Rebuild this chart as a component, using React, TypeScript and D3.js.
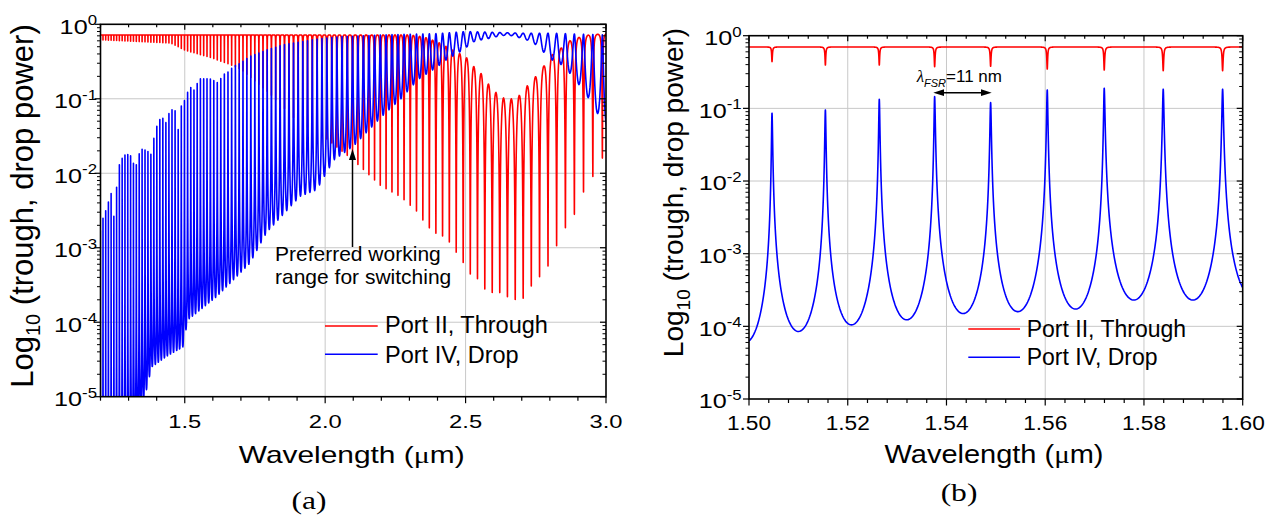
import React from 'react';
import * as d3 from 'd3';

// ================= Panel (a) data =================
// apparent fringe spacing (free spectral range, µm) vs wavelength
const fsrA: [number, number][] = [
  [1.2, 0.0095], [1.55, 0.0115], [1.9, 0.0165], [2.0, 0.0175], [2.65, 0.0275], [3.0, 0.0345],
];
const anchorResA = 2.649; // one resonance read off the through-port dips
// drop port: peak level at resonance
const dropPeakA: [number, number][] = [
  [1.2, 1.7e-3], [1.21, 2.6e-3], [1.222, 3.4e-3], [1.234, 4.9e-3], [1.243, 6.0e-3], [1.25, 1.7e-3],
  [1.26, 0.0105], [1.272, 0.015], [1.287, 0.0176], [1.305, 0.018], [1.317, 0.0136], [1.329, 0.0129],
  [1.341, 0.0206], [1.352, 0.0212], [1.37, 0.0195], [1.382, 0.0176], [1.394, 0.038], [1.406, 0.047],
  [1.418, 0.061], [1.43, 0.044], [1.441, 0.061], [1.453, 0.071], [1.465, 0.071], [1.477, 0.038],
  [1.489, 0.087], [1.501, 0.096], [1.513, 0.131], [1.525, 0.146], [1.536, 0.125], [1.548, 0.179],
  [1.56, 0.188], [1.572, 0.183], [1.584, 0.188], [1.601, 0.179], [1.613, 0.161], [1.625, 0.179],
  [1.637, 0.21], [1.655, 0.23], [1.673, 0.27], [1.697, 0.3], [1.732, 0.37], [1.791, 0.45],
  [1.851, 0.53], [1.91, 0.58], [1.969, 0.63], [2.05, 0.68], [2.2, 0.72], [2.4, 0.75], [2.5, 0.8],
  [2.6, 0.78], [2.7, 0.76], [2.8, 0.76], [2.9, 0.74], [3.0, 0.72],
];
// drop port: valley level between resonances
const dropValleyA: [number, number][] = [
  [1.2, 1e-7], [1.33, 5e-6], [1.358, 1e-5], [1.382, 2.5e-5], [1.436, 3.5e-5], [1.495, 4.7e-5],
  [1.51, 1.07e-4], [1.613, 2.2e-4], [1.732, 6.2e-4], [1.791, 1.6e-3], [1.91, 4.9e-3], [1.97, 6e-3],
  [2.03, 0.015], [2.1, 0.023], [2.2, 0.057], [2.27, 0.1], [2.33, 0.18], [2.4, 0.27], [2.43, 0.33],
  [2.49, 0.45], [2.527, 0.58], [2.557, 0.62], [2.586, 0.65], [2.622, 0.7], [2.651, 0.72],
  [2.681, 0.68], [2.717, 0.62], [2.752, 0.53], [2.782, 0.41], [2.817, 0.31], [2.85, 0.28],
  [2.88, 0.2], [2.92, 0.13], [2.955, 0.08], [3.0, 0.04],
];
// through port: maximum level between dips
const throughTopA: [number, number][] = [
  [1.2, 0.72], [2.3, 0.72], [2.35, 0.68], [2.4, 0.58], [2.455, 0.45], [2.5, 0.37], [2.53, 0.27],
  [2.56, 0.21], [2.58, 0.16], [2.61, 0.12], [2.64, 0.1], [2.67, 0.1], [2.69, 0.11], [2.72, 0.15],
  [2.75, 0.2], [2.78, 0.28], [2.8, 0.37], [2.84, 0.48], [2.87, 0.6], [2.9, 0.66], [2.94, 0.72], [3.0, 0.75],
];
// through port: dip level at resonance
const throughDipA: [number, number][] = [
  [1.2, 0.62], [1.45, 0.56], [1.5, 0.45], [1.6, 0.35], [1.67, 0.28], [1.7, 0.25], [1.8, 0.12],
  [1.9, 0.05], [2.0, 0.03], [2.1, 0.015], [2.2, 0.0067], [2.27, 0.0048], [2.33, 0.003], [2.36, 0.002],
  [2.4, 0.0015], [2.43, 0.0014], [2.497, 5.9e-4], [2.515, 4.5e-4], [2.541, 3.9e-4], [2.568, 2.8e-4],
  [2.596, 2.5e-4], [2.622, 2.5e-4], [2.649, 2.2e-4], [2.679, 2e-4], [2.705, 2.1e-4], [2.735, 3.1e-4],
  [2.764, 4.1e-4], [2.795, 5.8e-4], [2.83, 1.2e-3], [2.86, 2e-3], [2.89, 2.9e-3], [2.92, 5.6e-3],
  [2.96, 0.01], [3.0, 0.02],
];

// ================= Panel (b) data =================
const resB = [1.50466, 1.51547, 1.52639, 1.5376, 1.54894, 1.56041, 1.57195, 1.5839, 1.59593];
const dropPeakB = [0.0857, 0.095, 0.133, 0.145, 0.12, 0.179, 0.189, 0.183, 0.183];
// valleys: before first peak, between peaks, after last peak
const dropValleyB = [6e-5, 8.5e-5, 1.05e-4, 1.23e-4, 1.5e-4, 1.6e-4, 1.73e-4, 2.3e-4, 2.3e-4, 2.6e-4];
const throughDipB = [0.44, 0.395, 0.395, 0.375, 0.38, 0.348, 0.337, 0.33, 0.33];
const throughTopB = 0.7;

// ================= Axis / label data =================
const xTicksA = [1.5, 2.0, 2.5, 3.0];
const xTicksB = [1.5, 1.52, 1.54, 1.56, 1.58, 1.6];
const yDecades = [0, -1, -2, -3, -4, -5];
const legendLabels = ['Port II, Through', 'Port IV, Drop'];
const seriesColors = ['#ff0000', '#0000ff'];

const SANS = "'Liberation Sans', Arial, Helvetica, sans-serif";
const SERIF = "'Liberation Serif', 'Times New Roman', serif";

function makeLogInterp(knots: [number, number][]) {
  const xs = knots.map(k => k[0]);
  const ys = knots.map(k => Math.log10(k[1]));
  return (x: number) => {
    if (x <= xs[0]) return 10 ** ys[0];
    if (x >= xs[xs.length - 1]) return 10 ** ys[ys.length - 1];
    const i = d3.bisectRight(xs, x) - 1;
    const t = (x - xs[i]) / (xs[i + 1] - xs[i]);
    return 10 ** (ys[i] + t * (ys[i + 1] - ys[i]));
  };
}
function makeLinInterp(knots: [number, number][]) {
  const xs = knots.map(k => k[0]);
  const ys = knots.map(k => k[1]);
  return (x: number) => {
    if (x <= xs[0]) return ys[0];
    if (x >= xs[xs.length - 1]) return ys[ys.length - 1];
    const i = d3.bisectRight(xs, x) - 1;
    const t = (x - xs[i]) / (xs[i + 1] - xs[i]);
    return ys[i] + t * (ys[i + 1] - ys[i]);
  };
}

// phase sampling within one fringe (dense near resonance)
function phaseSamples(n: number) {
  const half = d3.range(n + 1).map(i => 0.5 * (i / n) ** 2);
  return [...half, ...half.slice(0, -1).reverse().map(u => 1 - u)];
}

function buildA() {
  const fsrAt = makeLinInterp(fsrA);
  const pk = makeLogInterp(dropPeakA);
  const vl = makeLogInterp(dropValleyA);
  const tt = makeLogInterp(throughTopA);
  const td = makeLogInterp(throughDipA);
  const res: number[] = [anchorResA];
  let l = anchorResA;
  while (l > 1.17) { l -= fsrAt(l - fsrAt(l) / 2); res.unshift(l); }
  l = anchorResA;
  while (l < 3.03) { l += fsrAt(l + fsrAt(l) / 2); res.push(l); }
  const U = phaseSamples(14);
  const drop: [number, number][] = [];
  const thr: [number, number][] = [];
  for (let k = 0; k < res.length - 1; k++) {
    const a = res[k], b = res[k + 1], mid = (a + b) / 2;
    const F = Math.max(pk(mid) / vl(mid) - 1, 0);
    const us = k === res.length - 2 ? U : U.slice(0, -1);
    for (const u of us) {
      const x = a + (b - a) * u;
      const s2 = Math.sin(Math.PI * u) ** 2;
      drop.push([x, Math.max(pk(x) / (1 + F * s2), 1e-9)]);
      const top = tt(x), dip = td(x);
      thr.push([x, dip + (top - dip) * (1 + F) * s2 / (1 + F * s2)]);
    }
  }
  return { drop, thr };
}

function buildB() {
  const n = resB.length;
  const resExt = [resB[0] - (resB[1] - resB[0]), ...resB, resB[n - 1] + (resB[n - 1] - resB[n - 2])];
  const pkExt = [dropPeakB[0], ...dropPeakB, dropPeakB[n - 1]];
  const dpExt = [throughDipB[0], ...throughDipB, throughDipB[n - 1]];
  const U = phaseSamples(60);
  const drop: [number, number][] = [];
  const thr: [number, number][] = [];
  for (let k = 0; k < resExt.length - 1; k++) {
    const a = resExt[k], b = resExt[k + 1];
    const Pa = pkExt[k], Pb = pkExt[k + 1];
    const V = dropValleyB[k];
    const F = Math.max(Math.sqrt(Pa * Pb) / V - 1, 0);
    const us = k === resExt.length - 2 ? U : U.slice(0, -1);
    for (const u of us) {
      const x = a + (b - a) * u;
      const s2 = Math.sin(Math.PI * u) ** 2;
      const P = Pa ** (1 - u) * Pb ** u;
      drop.push([x, P / (1 + F * s2)]);
      const dip = dpExt[k] * (1 - u) + dpExt[k + 1] * u;
      thr.push([x, dip + (throughTopB - dip) * (1 + F) * s2 / (1 + F * s2)]);
    }
  }
  return { drop, thr };
}

type Cfg = {
  id: string;
  x0: number; x1: number; yTop: number; yBot: number;
  dom: [number, number];
  xTicks: number[]; xFmt: (v: number) => string; xMinor: number[];
  xTickFont: number; xTickSx: number; xTickBase: number;
  yLabRight: number;
  xTitleCx: number; xTitleBase: number; xTitleFont: number; xTitleSx: number;
  yTitleX: number; yTitleCy: number; yTitleFont: number; yTitleSub: number;
  panelCx: number; panelBase: number;
  legX0: number; legX1: number; legY: number[]; legTextX: number; legBase: number[]; legFont: number;
  lineW: number;
};

function Panel({ cfg, drop, thr, children }: { cfg: Cfg; drop: [number, number][]; thr: [number, number][]; children?: React.ReactNode }) {
  const xs = d3.scaleLinear().domain(cfg.dom).range([cfg.x0, cfg.x1]);
  const ys = d3.scaleLog().domain([1e-5, 1]).range([cfg.yBot, cfg.yTop]);
  const line = d3.line<[number, number]>().x(d => xs(d[0])).y(d => Math.min(ys(Math.max(d[1], 1e-9)), cfg.yBot + 400));
  const minorY: number[] = [];
  for (let e = -5; e < 0; e++) for (let m = 2; m <= 9; m++) minorY.push(m * 10 ** e);
  const grid = '#c8c8c8';
  const clipId = `clip-${cfg.id}`;
  return (
    <g>
      <defs>
        <clipPath id={clipId}>
          <rect x={cfg.x0} y={cfg.yTop} width={cfg.x1 - cfg.x0} height={cfg.yBot - cfg.yTop} />
        </clipPath>
      </defs>
      {/* grid */}
      {cfg.xTicks.filter(v => v > cfg.dom[0] + 1e-9 && v < cfg.dom[1] - 1e-9).map(v => (
        <line key={`gx${v}`} x1={xs(v)} x2={xs(v)} y1={cfg.yTop} y2={cfg.yBot} stroke={grid} strokeWidth={1} />
      ))}
      {yDecades.filter(d => d < 0 && d > -5).map(d => (
        <line key={`gy${d}`} x1={cfg.x0} x2={cfg.x1} y1={ys(10 ** d)} y2={ys(10 ** d)} stroke={grid} strokeWidth={1} />
      ))}
      {/* curves */}
      <g clipPath={`url(#${clipId})`}>
        <path d={line(thr) || ''} fill="none" stroke={seriesColors[0]} strokeWidth={cfg.lineW} strokeLinejoin="round" />
        <path d={line(drop) || ''} fill="none" stroke={seriesColors[1]} strokeWidth={cfg.lineW} strokeLinejoin="round" />
      </g>
      {/* ticks */}
      <g stroke="#000" strokeWidth={1.2}>
        {cfg.xMinor.map((v, i) => {
          const major = cfg.xTicks.some(t => Math.abs(t - v) < 1e-6);
          const L = major ? 6.5 : 4;
          return (
            <g key={`tx${i}`}>
              <line x1={xs(v)} x2={xs(v)} y1={cfg.yBot} y2={cfg.yBot + L} />
              <line x1={xs(v)} x2={xs(v)} y1={cfg.yTop} y2={cfg.yTop + L - 1} />
            </g>
          );
        })}
        {yDecades.map(d => (
          <g key={`ty${d}`}>
            <line x1={cfg.x0 - 6} x2={cfg.x0} y1={ys(10 ** d)} y2={ys(10 ** d)} />
            <line x1={cfg.x1 - 6} x2={cfg.x1} y1={ys(10 ** d)} y2={ys(10 ** d)} />
          </g>
        ))}
        {minorY.map((v, i) => (
          <g key={`my${i}`}>
            <line x1={cfg.x0 - 3.5} x2={cfg.x0} y1={ys(v)} y2={ys(v)} strokeWidth={1} />
            <line x1={cfg.x1 - 3.5} x2={cfg.x1} y1={ys(v)} y2={ys(v)} strokeWidth={1} />
          </g>
        ))}
      </g>
      {/* frame */}
      <rect x={cfg.x0} y={cfg.yTop} width={cfg.x1 - cfg.x0} height={cfg.yBot - cfg.yTop} fill="none" stroke="#000" strokeWidth={1.6} />
      {/* tick labels */}
      {cfg.xTicks.map(v => (
        <g key={`xl${v}`} transform={`translate(${xs(v)},${cfg.xTickBase}) scale(${cfg.xTickSx},1)`}>
          <text textAnchor="middle" fontSize={cfg.xTickFont} fill="#000">{cfg.xFmt(v)}</text>
        </g>
      ))}
      {yDecades.map(d => (
        <g key={`yl${d}`} transform={`translate(${cfg.yLabRight},${ys(10 ** d) + 9.3}) scale(1.2,1)`}>
          <text textAnchor="end" fontSize={21} fill="#000">
            10<tspan dy={-8.5} fontSize={14}>{d === 0 ? '0' : `-${-d}`}</tspan>
          </text>
        </g>
      ))}
      {/* axis titles */}
      <g transform={`translate(${cfg.xTitleCx},${cfg.xTitleBase}) scale(${cfg.xTitleSx},1)`}>
        <text textAnchor="middle" fontSize={cfg.xTitleFont} fill="#000">
          Wavelength (<tspan fontFamily={SERIF}>μ</tspan>m)
        </text>
      </g>
      <g transform={`translate(${cfg.yTitleX},${cfg.yTitleCy}) rotate(-90)`}>
        <text textAnchor="middle" fontSize={cfg.yTitleFont} fill="#000">
          Log<tspan dy={7} fontSize={cfg.yTitleSub}>10</tspan><tspan dy={-7}> (trough, drop power)</tspan>
        </text>
      </g>
      <g transform={`translate(${cfg.panelCx},${cfg.panelBase}) scale(1.26,1)`}>
        <text textAnchor="middle" fontSize={25} fontFamily={SERIF} fill="#000">({cfg.id})</text>
      </g>
      {/* legend */}
      {legendLabels.map((lab, i) => (
        <g key={lab}>
          <line x1={cfg.legX0} x2={cfg.legX1} y1={cfg.legY[i]} y2={cfg.legY[i]} stroke={seriesColors[i]} strokeWidth={1.5} />
          <text x={cfg.legTextX} y={cfg.legBase[i]} fontSize={cfg.legFont} fill="#000">{lab}</text>
        </g>
      ))}
      {children}
    </g>
  );
}

const cfgA: Cfg = {
  id: 'a', x0: 100.5, x1: 606, yTop: 24.3, yBot: 396.7, dom: [1.2, 3.0],
  xTicks: xTicksA, xFmt: d3.format('.1f'), xMinor: d3.range(12, 31).map(i => i / 10),
  xTickFont: 19, xTickSx: 1.25, xTickBase: 428.3, yLabRight: 97,
  xTitleCx: 351.7, xTitleBase: 463.3, xTitleFont: 23, xTitleSx: 1.3,
  yTitleX: 33, yTitleCy: 206, yTitleFont: 31, yTitleSub: 20,
  panelCx: 309, panelBase: 509,
  legX0: 325, legX1: 377.7, legY: [326, 354.3], legTextX: 385, legBase: [333.3, 362.7], legFont: 23.5,
  lineW: 1.6,
};
const cfgB: Cfg = {
  id: 'b', x0: 749, x1: 1242.7, yTop: 35.7, yBot: 399, dom: [1.5, 1.6],
  xTicks: xTicksB, xFmt: d3.format('.2f'), xMinor: d3.range(0, 26).map(i => 1.5 + i * 0.004),
  xTickFont: 21, xTickSx: 1.08, xTickBase: 430, yLabRight: 741.7,
  xTitleCx: 994, xTitleBase: 463.3, xTitleFont: 25, xTitleSx: 1.16,
  yTitleX: 683, yTitleCy: 192.5, yTitleFont: 28, yTitleSub: 19,
  panelCx: 959, panelBase: 501,
  legX0: 968.3, legX1: 1020, legY: [329, 357.3], legTextX: 1026.7, legBase: [336.7, 365], legFont: 23,
  lineW: 1.6,
};

export default function App() {
  const A = React.useMemo(buildA, []);
  const B = React.useMemo(buildB, []);
  return (
    <svg width={1266} height={515} style={{ position: 'absolute', left: 0, top: 0, background: '#fff' }} fontFamily={SANS}>
      <rect width={1266} height={515} fill="#fff" />
      <Panel cfg={cfgA} drop={A.drop} thr={A.thr}>
        {/* arrow + annotation */}
        <line x1={352.5} x2={352.5} y1={247} y2={159} stroke="#000" strokeWidth={1.5} />
        <path d="M352.5,149 L349,160 L356,160 Z" fill="#000" />
        <text x={275} y={261} fontSize={21} fill="#000">Preferred working</text>
        <text x={275} y={284.3} fontSize={21} fill="#000">range for switching</text>
      </Panel>
      <Panel cfg={cfgB} drop={B.drop} thr={B.thr}>
        <text x={916.7} y={81.7} fontSize={17} fill="#000">
          <tspan fontFamily={SERIF} fontStyle="italic">λ</tspan>
          <tspan dy={5} fontSize={11} fontStyle="italic">FSR</tspan>
          <tspan dy={-5}>=11 nm</tspan>
        </text>
        <line x1={943} x2={982} y1={92.7} y2={92.7} stroke="#000" strokeWidth={1.5} />
        <path d="M933.3,92.7 L944,89.3 L944,96.1 Z" fill="#000" />
        <path d="M991.7,92.7 L981,89.3 L981,96.1 Z" fill="#000" />
      </Panel>
    </svg>
  );
}
